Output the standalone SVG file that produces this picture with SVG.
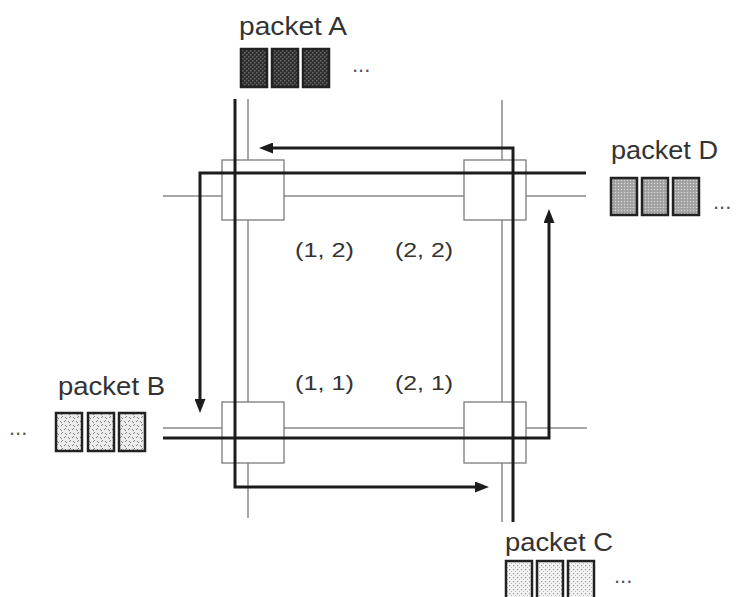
<svg xmlns="http://www.w3.org/2000/svg" width="736" height="597" viewBox="0 0 736 597">
<style>
.lbl{font-family:"Liberation Sans",Arial,sans-serif;font-size:25px;fill:#333}
.crd{font-family:"Liberation Sans",Arial,sans-serif;font-size:21px;fill:#333}
.dots{font-family:"Liberation Sans",Arial,sans-serif;font-size:22px;fill:#555}
.thin{fill:none;stroke:#8a8a8a;stroke-width:1.5}
.thick{fill:none;stroke:#1c1c1c;stroke-width:3;marker-end:url(#ah)}
.node{fill:#fff;stroke:#7a7a7a;stroke-width:1.3}
.pk{stroke:#222;stroke-width:2.5}
</style>
<defs>
<marker id="ah" viewBox="0 0 14 11" markerWidth="14" markerHeight="11" refX="6" refY="5.5" orient="auto" markerUnits="userSpaceOnUse">
<path d="M0,0 L14,5.5 L0,11 Z" fill="#1c1c1c"/>
</marker>
<pattern id="pA" width="4" height="4" patternUnits="userSpaceOnUse">
<rect width="4" height="4" fill="#2e2e2e"/>
<rect x="0" y="0" width="1.5" height="1.5" fill="#6a6a6a"/>
<rect x="2" y="2" width="1.5" height="1.5" fill="#6a6a6a"/>
</pattern>
<pattern id="pD" width="3" height="3" patternUnits="userSpaceOnUse">
<rect width="3" height="3" fill="#a8a8a8"/>
<rect x="0" y="0" width="1" height="1" fill="#d8d8d8"/>
<rect x="1.5" y="1.5" width="1" height="1" fill="#888"/>
</pattern>
<pattern id="pB" width="8" height="8" patternUnits="userSpaceOnUse">
<rect width="8" height="8" fill="#ececec"/>
<path d="M1,1 L3,3 M5,2 L7,0 M4,5 L6,7 M0,6 L2,4" stroke="#777" stroke-width="0.9"/>
</pattern>
<pattern id="pC" width="4" height="4" patternUnits="userSpaceOnUse">
<rect width="4" height="4" fill="#f3f3f3"/>
<rect x="1" y="1" width="1.2" height="1.2" fill="#999"/>
<rect x="3" y="3" width="1" height="1" fill="#bbb"/>
</pattern>
</defs>
<rect width="736" height="597" fill="#fff"/>

<g id="links">
<path class="thin" d="M248,99 V518"/>
<path class="thin" d="M502,100 V522"/>
<path class="thin" d="M163,196 H586"/>
<path class="thin" d="M163,428 H587"/>
</g>

<g id="node-1-2"><rect class="node" x="222" y="160" width="62" height="60"/></g>
<g id="node-2-2"><rect class="node" x="464" y="160" width="62" height="60"/></g>
<g id="node-1-1"><rect class="node" x="222" y="402" width="62" height="61"/></g>
<g id="node-2-1"><rect class="node" x="464" y="402" width="62" height="61"/></g>

<g id="connectors">
<path class="thick" d="M235,99 V487 H481"/>
<path class="thick" d="M586,173 H200 V405"/>
<path class="thick" d="M163,438 H549 V217"/>
<path class="thick" d="M513,522 V148 H267"/>
</g>

<g id="coords">
<text class="crd" x="295" y="257" textLength="59" lengthAdjust="spacingAndGlyphs">(1, 2)</text>
<text class="crd" x="395" y="257" textLength="58" lengthAdjust="spacingAndGlyphs">(2, 2)</text>
<text class="crd" x="295" y="390" textLength="59" lengthAdjust="spacingAndGlyphs">(1, 1)</text>
<text class="crd" x="395" y="390" textLength="58" lengthAdjust="spacingAndGlyphs">(2, 1)</text>
</g>

<g id="packet-A">
<text class="lbl" x="239" y="35" textLength="108" lengthAdjust="spacingAndGlyphs">packet A</text>
<rect class="pk" x="241" y="49" width="26" height="38" fill="url(#pA)"/>
<rect class="pk" x="272" y="49" width="26" height="38" fill="url(#pA)"/>
<rect class="pk" x="303" y="49" width="26" height="38" fill="url(#pA)"/>
<text class="dots" x="352" y="72">...</text>
</g>

<g id="packet-D">
<text class="lbl" x="611" y="159" textLength="107" lengthAdjust="spacingAndGlyphs">packet D</text>
<rect class="pk" x="611" y="178" width="26" height="37" fill="url(#pD)"/>
<rect class="pk" x="642" y="178" width="26" height="37" fill="url(#pD)"/>
<rect class="pk" x="673" y="178" width="26" height="37" fill="url(#pD)"/>
<text class="dots" x="713" y="209">...</text>
</g>

<g id="packet-B">
<text class="lbl" x="58" y="395" textLength="107" lengthAdjust="spacingAndGlyphs">packet B</text>
<rect class="pk" x="56" y="413" width="26" height="38" fill="url(#pB)"/>
<rect class="pk" x="88" y="413" width="26" height="38" fill="url(#pB)"/>
<rect class="pk" x="119" y="413" width="26" height="38" fill="url(#pB)"/>
<text class="dots" x="9" y="435">...</text>
</g>

<g id="packet-C">
<text class="lbl" x="505" y="551" textLength="108" lengthAdjust="spacingAndGlyphs">packet C</text>
<rect class="pk" x="506" y="561" width="26" height="38" fill="url(#pC)"/>
<rect class="pk" x="537" y="561" width="26" height="38" fill="url(#pC)"/>
<rect class="pk" x="568" y="561" width="26" height="38" fill="url(#pC)"/>
<text class="dots" x="614" y="583">...</text>
</g>
</svg>
